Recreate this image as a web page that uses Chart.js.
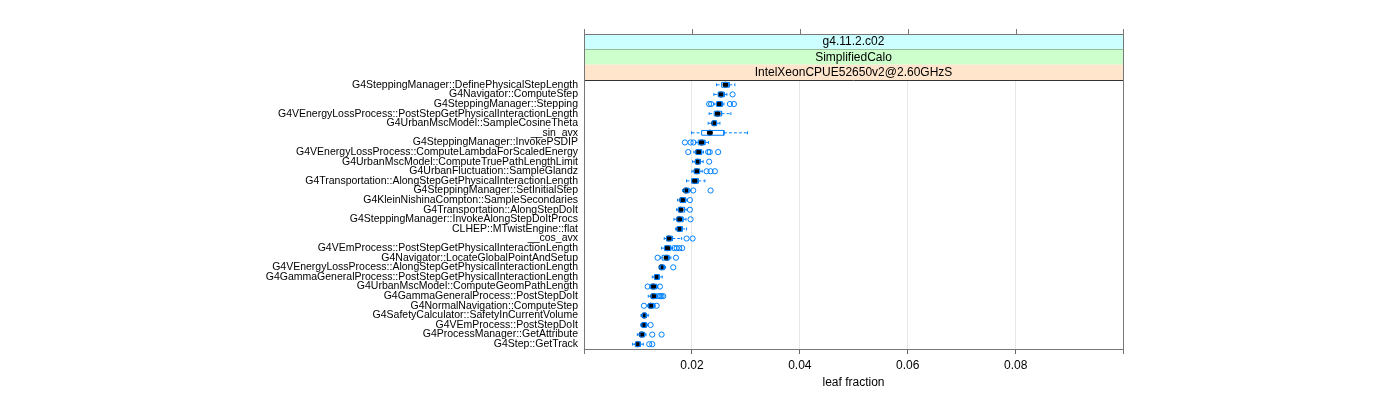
<!DOCTYPE html>
<html>
<head>
<meta charset="utf-8">
<script src="https://cdn.jsdelivr.net/npm/chart.js@4"></script>
<style>
  html, body { margin: 0; padding: 0; background: #fff; }
  #wrap { width: 1400px; height: 400px; }
</style>
</head>
<body>
<div id="wrap"><canvas id="chart" width="1400" height="400"></canvas></div>
<script>
// box plot data, one entry per function (top to bottom)
const funcs = [
  "G4SteppingManager::DefinePhysicalStepLength", "G4Navigator::ComputeStep", "G4SteppingManager::Stepping",
  "G4VEnergyLossProcess::PostStepGetPhysicalInteractionLength", "G4UrbanMscModel::SampleCosineTheta", "__sin_avx",
  "G4SteppingManager::InvokePSDIP", "G4VEnergyLossProcess::ComputeLambdaForScaledEnergy",
  "G4UrbanMscModel::ComputeTruePathLengthLimit", "G4UrbanFluctuation::SampleGlandz",
  "G4Transportation::AlongStepGetPhysicalInteractionLength", "G4SteppingManager::SetInitialStep",
  "G4KleinNishinaCompton::SampleSecondaries", "G4Transportation::AlongStepDoIt",
  "G4SteppingManager::InvokeAlongStepDoItProcs", "CLHEP::MTwistEngine::flat", "__cos_avx",
  "G4VEmProcess::PostStepGetPhysicalInteractionLength", "G4Navigator::LocateGlobalPointAndSetup",
  "G4VEnergyLossProcess::AlongStepGetPhysicalInteractionLength",
  "G4GammaGeneralProcess::PostStepGetPhysicalInteractionLength", "G4UrbanMscModel::ComputeGeomPathLength",
  "G4GammaGeneralProcess::PostStepDoIt", "G4NormalNavigation::ComputeStep",
  "G4SafetyCalculator::SafetyInCurrentVolume", "G4VEmProcess::PostStepDoIt",
  "G4ProcessManager::GetAttribute", "G4Step::GetTrack"
];
const whiskLo = [0.02457,0.02407,0.0241,0.0232,0.02302,0.01994,0.0207,0.02037,0.02013,0.02,0.01901,0.01827,0.01735,0.01716,
  0.01667,0.01698,0.01487,0.01438,0.0142,0.01394,0.01265,0.0122,0.01191,0.0118,0.01056,0.0105,0.00988,0.00901];
const q1 = [0.0255,0.02487,0.02457,0.02413,0.02376,0.0218,0.02117,0.02074,0.02068,0.02043,0.01994,0.0186,0.01784,0.01753,
  0.01722,0.01728,0.01531,0.01494,0.01449,0.01413,0.01308,0.01235,0.01247,0.012,0.01086,0.01074,0.01037,0.00957];
const med = [0.02624,0.02537,0.02506,0.02476,0.02413,0.02333,0.02179,0.02117,0.02105,0.02087,0.02056,0.01889,0.0182,0.0179,
  0.01765,0.01765,0.01574,0.01543,0.01531,0.01438,0.01346,0.01283,0.01283,0.01235,0.01117,0.01111,0.01068,0.00994];
const q3 = [0.02691,0.02598,0.02561,0.0255,0.02457,0.02593,0.0224,0.0218,0.02155,0.02142,0.02117,0.01944,0.01883,0.01864,
  0.01833,0.0182,0.01636,0.01605,0.01574,0.01487,0.01394,0.01346,0.01346,0.01296,0.01154,0.01154,0.01123,0.01043];
const whiskHi = [0.02796,0.02648,0.02593,0.02722,0.02519,0.03031,0.02309,0.02215,0.02209,0.0219,0.02241,0.0198,0.0191,0.0191,
  0.0189,0.01901,0.0181,0.0164,0.0161,0.01512,0.0145,0.0137,0.01365,0.0132,0.01191,0.0118,0.01148,0.01099];
const outliers = [
  [], [0.02754], [0.0232,0.02357,0.02704,0.02778], [], [], [],
  [0.0187,0.01975,0.0203], [0.01932,0.02302,0.0233,0.02487], [0.0232], [0.02272,0.02346,0.02426],
  [], [0.02024,0.02346], [0.01963], [0.01963], [0.01975], [], [0.01901,0.02013],
  [0.01672,0.01716,0.01765,0.0182], [0.01364,0.01704], [0.01654], [], [0.0118,0.01407],
  [0.01389,0.01413,0.01438,0.01469], [0.01111,0.01346], [], [0.01235], [0.01265,0.01438], [0.01209,0.01265]
];
const xTicks = [0.02, 0.04, 0.06, 0.08];
const strips = ["g4.11.2.c02", "SimplifiedCalo", "IntelXeonCPUE52650v2@2.60GHzS"];
const stripColors = ["#ccffff", "#ccffcc", "#ffe5cc"];

const BLUE = '#0080ff';
const FONT = "'Liberation Sans', Arial, sans-serif";
const gap = { x: null, y: null };

// build segment lists (null point = break in line)
const boxPts = [], lowPts = [], hiPts = [], medPts = [], outPts = [];
funcs.forEach((f, i) => {
  const h = 0.25, c = 0.15;
  boxPts.push({ x: q1[i], y: i - h }, { x: q3[i], y: i - h }, { x: q3[i], y: i + h },
    { x: q1[i], y: i + h }, { x: q1[i], y: i - h }, gap);
  lowPts.push({ x: whiskLo[i], y: i - c }, { x: whiskLo[i], y: i + c }, gap,
    { x: whiskLo[i], y: i }, { x: q1[i], y: i }, gap);
  hiPts.push({ x: q3[i], y: i }, { x: whiskHi[i], y: i }, gap,
    { x: whiskHi[i], y: i - c }, { x: whiskHi[i], y: i + c }, gap);
  medPts.push({ x: med[i], y: i });
  outliers[i].forEach(v => outPts.push({ x: v, y: i }));
});

const lineDs = (data, dash) => ({
  data, showLine: true, spanGaps: false, borderColor: BLUE, borderWidth: 1,
  borderDash: dash, pointRadius: 0, pointHoverRadius: 0, fill: false
});

// strips, panel border and top ticks
const panelPlugin = {
  id: 'panel',
  afterDraw(chart) {
    const { ctx, chartArea: a, scales } = chart;
    const top = 34, sh = (a.top - top) / strips.length;
    ctx.save();
    strips.forEach((s, k) => {
      const y0 = top + k * sh;
      ctx.fillStyle = stripColors[k];
      ctx.fillRect(a.left, y0, a.right - a.left, sh);
      ctx.strokeStyle = '#333'; ctx.lineWidth = 1;
      ctx.beginPath(); ctx.moveTo(a.left, Math.round(y0 + sh) + 0.5); ctx.lineTo(a.right, Math.round(y0 + sh) + 0.5); ctx.stroke();
      ctx.fillStyle = '#000'; ctx.font = '12px ' + FONT;
      ctx.textAlign = 'center'; ctx.textBaseline = 'middle';
      ctx.fillText(s, (a.left + a.right) / 2, y0 + sh / 2 + 0.5);
    });
    ctx.strokeStyle = '#777';
    ctx.strokeRect(Math.round(a.left) + 0.5, top + 0.5, Math.round(a.right - a.left), Math.round(a.bottom - top));
    ctx.beginPath();
    xTicks.forEach(t => {
      const px = Math.round(scales.x.getPixelForValue(t)) + 0.5;
      ctx.moveTo(px, top); ctx.lineTo(px, top - 5);
    });
    [a.left, a.right].forEach(px => {
      px = Math.round(px) + 0.5;
      ctx.moveTo(px, top); ctx.lineTo(px, top - 5);
      ctx.moveTo(px, a.bottom); ctx.lineTo(px, a.bottom + 5);
    });
    ctx.stroke();
    ctx.restore();
  }
};

new Chart(document.getElementById('chart'), {
  type: 'scatter',
  data: {
    datasets: [
      lineDs(boxPts, []),
      lineDs(lowPts, [3, 2]),
      lineDs(hiPts, [3, 2]),
      { data: outPts, pointStyle: 'circle', pointRadius: 2.6, borderColor: BLUE, borderWidth: 1,
        backgroundColor: 'rgba(0,0,0,0)', showLine: false },
      { data: medPts, pointStyle: 'circle', pointRadius: 3, borderColor: '#000', borderWidth: 0,
        backgroundColor: '#000', showLine: false }
    ]
  },
  options: {
    responsive: false,
    animation: false,
    layout: { padding: { top: 80, right: 277, bottom: 0, left: 0 } },
    plugins: { legend: { display: false }, tooltip: { enabled: false } },
    scales: {
      x: {
        type: 'linear', min: 0, max: 0.0999,
        afterBuildTicks: s => { s.ticks = xTicks.map(v => ({ value: v })); },
        afterFit: s => { s.height = 51; },
        grid: { color: '#e6e6e6', tickColor: '#666', tickLength: 5 },
        border: { color: '#777' },
        ticks: { color: '#000', padding: 4, font: { family: FONT, size: 12 }, callback: v => String(v) },
        title: { display: true, text: 'leaf fraction', color: '#000', font: { family: FONT, size: 12 },
          padding: { top: 0, bottom: 10 } }
      },
      y: {
        type: 'linear', min: -0.5, max: funcs.length - 0.5, reverse: true,
        afterBuildTicks: s => { s.ticks = funcs.map((f, i) => ({ value: i })); },
        afterFit: s => { s.width = 584; },
        grid: { display: false, drawTicks: false },
        border: { color: '#777' },
        ticks: { autoSkip: false, color: '#000', padding: 6, font: { family: FONT, size: 10.5 },
          callback: v => funcs[v] }
      }
    }
  },
  plugins: [panelPlugin]
});
</script>
</body>
</html>
